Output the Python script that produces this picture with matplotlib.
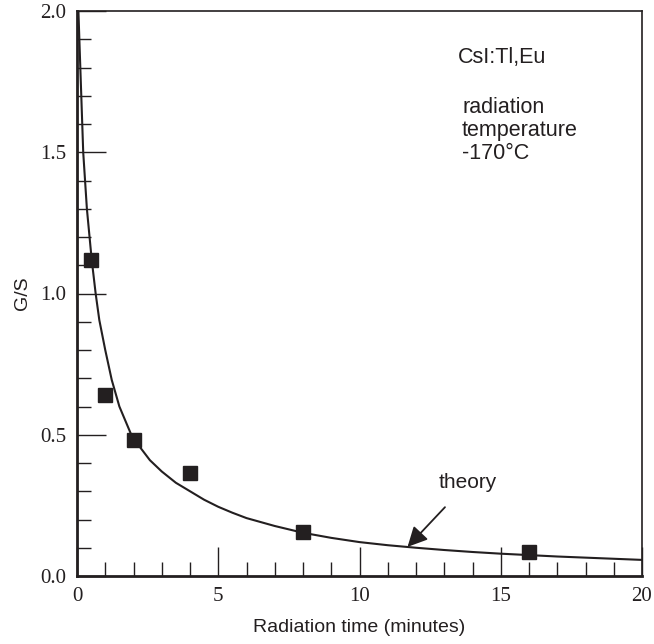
import matplotlib
matplotlib.use('Agg')
import matplotlib.pyplot as plt

# measured points (squares)
time_min = [0.5, 1, 2, 4, 8, 16]
gs_meas = [1.12, 0.64, 0.48, 0.365, 0.155, 0.085]

# theory curve
theory_x = [0.05, 0.1, 0.22, 0.35, 0.52, 0.66, 0.79, 1.0, 1.23, 1.5, 1.9, 2.2, 2.58,
            3.0, 3.5, 4.0, 4.5, 5.0, 5.5, 6.0, 7.0, 8.0, 9.0, 10.0, 11.0,
            12.0, 13.0, 14.0, 15.0, 16.0, 17.0, 18.0, 19.0, 20.0]
theory_y = [2.0, 1.85, 1.5, 1.3, 1.12, 1.0, 0.906, 0.80, 0.694, 0.60, 0.505, 0.46, 0.41,
            0.37, 0.33, 0.30, 0.27, 0.245, 0.224, 0.205, 0.177, 0.153, 0.135, 0.12, 0.109,
            0.10, 0.092, 0.085, 0.079, 0.074, 0.069, 0.065, 0.061, 0.057]

ink = '#231f20'
serif = 'Liberation Serif'
sans = 'Liberation Sans'

fig = plt.figure(figsize=(6.54, 6.44), dpi=100)
ax = fig.add_axes([77/654, 1 - 576/644, 565/654, 565/644])

ax.plot(theory_x, theory_y, color=ink, lw=1.5, solid_joinstyle='round')
ax.plot(time_min, gs_meas, ls='none', marker='s', ms=10, color=ink, mec=ink)

ax.set_xlim(0, 20)
ax.set_ylim(0, 2.0)
ax.set_xticks([0, 5, 10, 15, 20])
ax.set_xticks(range(0, 21), minor=True)
ax.set_yticks([0, 0.5, 1.0, 1.5, 2.0])
ax.set_yticks([i / 10 for i in range(21)], minor=True)
ax.set_yticklabels(['0.0', '0.5', '1.0', '1.5', '2.0'])

ax.tick_params(which='both', direction='in', color=ink, width=1.0,
               top=False, right=False, labelsize=15, labelcolor=ink)
ax.tick_params(which='major', length=21)
ax.tick_params(which='minor', length=10)
for lab in ax.get_xticklabels() + ax.get_yticklabels():
    lab.set_fontfamily(serif)
ax.tick_params(axis='x', which='major', pad=8)
ax.tick_params(axis='y', which='major', pad=8)

for side in ['left', 'bottom', 'top', 'right']:
    ax.spines[side].set_color(ink)
ax.spines['left'].set_linewidth(2)
ax.spines['bottom'].set_linewidth(2)
ax.spines['top'].set_linewidth(1.2)
ax.spines['right'].set_linewidth(1.2)

ax.set_xlabel('Radiation time (minutes)', fontsize=14, family=sans, color=ink, labelpad=9)
ax.set_ylabel('G/S', fontsize=14, family=sans, color=ink, labelpad=6)

ax.text(13.49, 1.837, 'CsI:Tl,Eu', fontsize=15.5, family=sans, color=ink, va='center')
ax.text(13.63, 1.577, 'radiation\ntemperature\n-170\u00b0C', fontsize=15.5, family=sans,
        color=ink, va='center', linespacing=1.12)

ax.annotate('theory', xy=(11.7, 0.103), xytext=(13.84, 0.33), fontsize=15, family=sans,
            color=ink, ha='center', va='center',
            arrowprops=dict(arrowstyle='-|>', color=ink, lw=1.3, mutation_scale=30,
                            shrinkA=12, shrinkB=0))

plt.savefig('out.png', dpi=100)
